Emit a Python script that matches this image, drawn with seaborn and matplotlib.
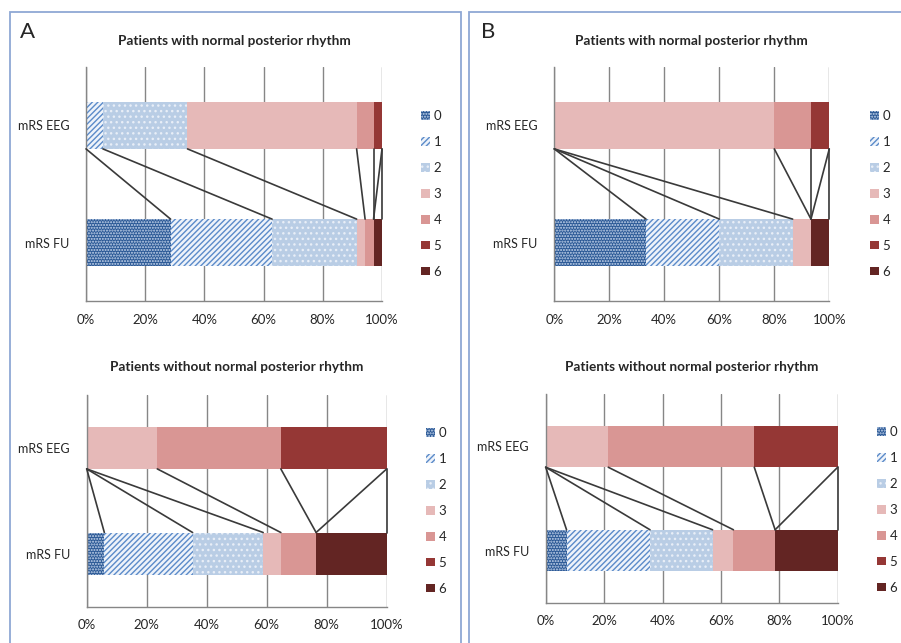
import numpy as np
import pandas as pd
import matplotlib
matplotlib.use("Agg")
import matplotlib.pyplot as plt
from matplotlib.patches import Patch, Rectangle
import seaborn as sns

scores = ["0", "1", "2", "3", "4", "5", "6"]
groups = ["mRS EEG", "mRS FU"]
titles = ["Patients with normal posterior rhythm", "Patients without normal posterior rhythm"]

# number of patients per mRS score 0..6
a_normal_eeg = [0, 2, 10, 20, 2, 1, 0]
a_normal_fu = [10, 12, 10, 1, 1, 0, 1]
a_abnormal_eeg = [0, 0, 0, 4, 7, 6, 0]
a_abnormal_fu = [1, 5, 4, 1, 2, 0, 4]
b_normal_eeg = [0, 0, 0, 12, 2, 1, 0]
b_normal_fu = [5, 4, 4, 1, 0, 0, 1]
b_abnormal_eeg = [0, 0, 0, 3, 7, 4, 0]
b_abnormal_fu = [1, 4, 3, 1, 2, 0, 3]

face = ["#2a5895", "#eef3fa", "#b9cde5", "#e6b9b8", "#d99694", "#953735", "#632523"]
hatch_col = ["#c9d8ee", "#5b8bc9", "#e8eef7", "#e6b9b8", "#d99694", "#953735", "#632523"]
hatches = ["......", "//////", "...", None, None, None, None]

GRAY = "#868686"
BAR_H = 0.4

sns.set_style("white")
plt.rcParams["font.family"] = ["Lato", "DejaVu Sans"]
plt.rcParams["hatch.linewidth"] = 1.0


def to_long(eeg, fu):
    rows = []
    for g, counts in zip(groups, [eeg, fu]):
        arr = np.array(counts, dtype=float)
        cum = np.cumsum(arr / arr.sum() * 100)
        for s, c in zip(scores, cum):
            rows.append({"group": g, "score": s, "cum": c})
    return pd.DataFrame(rows)


def draw_panel(fig, rect, eeg, fu, title, leg_xy, title_pad):
    ax = fig.add_axes(rect)
    df = to_long(eeg, fu)
    # stacked bars: draw cumulative lengths from the last score to the first
    for k in reversed(range(len(scores))):
        sub = df[df.score == scores[k]]
        sns.barplot(data=sub, x="cum", y="group", order=groups, orient="h",
                    color=face[k], saturation=1, width=BAR_H, errorbar=None,
                    hatch=hatches[k], edgecolor=hatch_col[k], linewidth=0,
                    ax=ax, zorder=2)

    # lines linking the boundaries of each score between the two bars
    e_cum = df[df.group == groups[0]]["cum"].values
    f_cum = df[df.group == groups[1]]["cum"].values
    for e, f in zip(e_cum, f_cum):
        ax.plot([e, f], [BAR_H / 2, 1 - BAR_H / 2], color="#3a3a3a", lw=1.2,
                zorder=3, clip_on=False)

    ax.set_xlim(0, 100)
    ax.set_ylim(1.5, -0.5)
    ax.set_xticks(range(0, 101, 20))
    ax.set_xticklabels([f"{v}%" for v in range(0, 101, 20)], fontsize=9.5)
    ax.set_yticks([0, 1])
    ax.set_yticklabels(groups, fontsize=9)
    ax.set_yticks([-0.5, 0.5, 1.5], minor=True)
    ax.tick_params(axis="y", which="major", length=0, pad=12)
    ax.tick_params(axis="y", which="minor", length=4, color=GRAY, direction="out")
    ax.tick_params(axis="x", length=4, color=GRAY, direction="out", pad=5)
    ax.set_xlabel("")
    ax.set_ylabel("")
    ax.grid(axis="x", color=GRAY, lw=1)
    ax.set_axisbelow(True)
    for side in ["top", "right"]:
        ax.spines[side].set_visible(False)
    for side in ["left", "bottom"]:
        ax.spines[side].set_color(GRAY)
        ax.spines[side].set_linewidth(1)
    ax.set_title(title, fontsize=9.8, fontweight="bold", pad=title_pad)

    handles = [Patch(facecolor=face[k], hatch=hatches[k], edgecolor=hatch_col[k],
                     linewidth=0, label=scores[k]) for k in range(len(scores))]
    fig.legend(handles=handles, loc="center left",
               bbox_to_anchor=(leg_xy[0] / 901, 1 - leg_xy[1] / 643),
               frameon=False, fontsize=9.5, handlelength=0.65, handleheight=0.65,
               handletextpad=0.3, labelspacing=1.05, borderpad=0, borderaxespad=0)
    return ax


fig = plt.figure(figsize=(9.01, 6.43), dpi=100)

# panel frames
fig.add_artist(Rectangle((10 / 901, -0.05), 451 / 901, 1.05 - 12 / 643,
                         transform=fig.transFigure, fill=False,
                         edgecolor="#8fa8d4", lw=1.3))
fig.add_artist(Rectangle((469 / 901, -0.05), 0.6, 1.05 - 12 / 643,
                         transform=fig.transFigure, fill=False,
                         edgecolor="#8fa8d4", lw=1.3))

draw_panel(fig, [86 / 901, 1 - 301 / 643, 296 / 901, 234 / 643],
           a_normal_eeg, a_normal_fu, titles[0], (421, 194), 16)
draw_panel(fig, [86.7 / 901, 1 - 606.7 / 643, 300 / 901, 212 / 643],
           a_abnormal_eeg, a_abnormal_fu, titles[1], (426, 511), 17)
draw_panel(fig, [554.3 / 901, 1 - 301 / 643, 275 / 901, 234 / 643],
           b_normal_eeg, b_normal_fu, titles[0], (870, 194), 16)
draw_panel(fig, [545.7 / 901, 1 - 602.7 / 643, 292 / 901, 208.4 / 643],
           b_abnormal_eeg, b_abnormal_fu, titles[1], (877, 510), 17)

fig.text(20 / 901, 1 - 22 / 643, "A", fontsize=16, va="top", ha="left")
fig.text(481 / 901, 1 - 22 / 643, "B", fontsize=16, va="top", ha="left")

fig.savefig("out.png", dpi=100)
